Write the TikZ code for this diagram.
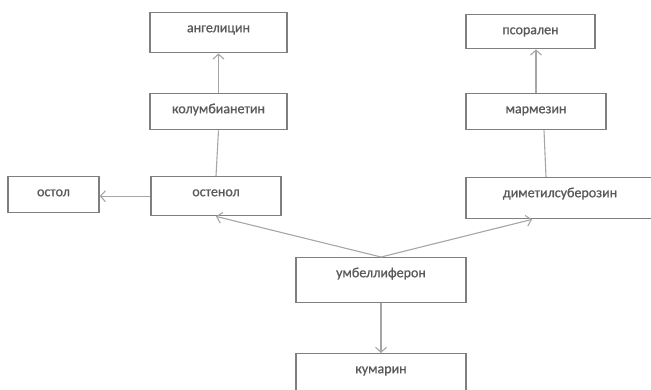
\documentclass[tikz,border=0pt]{standalone}
\usepackage{fontspec}
\setmainfont[FakeBold=1.0]{Carlito}
\usepackage{tikz}
\usetikzlibrary{arrows.meta}
\definecolor{boxline}{HTML}{7F7F7F}
\definecolor{arrline}{HTML}{A6A6A6}
\definecolor{txtgray}{HTML}{5A5A5A}
\tikzset{
  box/.style={draw=boxline, line width=1.4pt, inner xsep=0pt, inner ysep=0pt,
    text height=19.5pt, font=\fontsize{14}{16}\selectfont, text=txtgray, anchor=north},
  arr/.style={draw=arrline, line width=1.1pt, ->, >={Straight Barb[length=5pt,width=11pt]}},
  ln/.style={draw=arrline, line width=1.1pt}
}
\begin{document}
\begin{tikzpicture}[x=1pt,y=-1pt]
        \useasboundingbox (0,0) rectangle (651,389);
        \clip (0,0) rectangle (651,389);
        %левая ветка
        \node[box, minimum width=137pt, text depth=20.5pt] (angelicin) at (218.5,12) {ангелицин};
        \node[box, minimum width=137pt, text depth=16.5pt] (columbianetin) at (218.5,93) {колумбианетин};
        \node[box, minimum width=130pt, text depth=19.5pt] (ostenol) at (216,176) {остенол};
        \node[box, minimum width=91pt, text depth=16.5pt] (ostol) at (53.5,176) {остол};
        %правая ветка
        \node[box, minimum width=129pt, text depth=14.5pt] (psoralen) at (530.5,14) {псорален};
        \node[box, minimum width=140pt, text depth=16.5pt] (marmesin) at (536,93) {мармезин};
        \node[box, minimum width=188pt, text depth=21.5pt] (dimethyl) at (560,177) {диметилсуберозин};
        %центр
        \node[box, minimum width=170pt, text depth=25.5pt] (umbel) at (381,257) {умбеллиферон};
        \node[box, minimum width=170pt, text depth=30pt] (coumarin) at (381,353) {кумарин};

        \draw[arr] (columbianetin.north) -- (angelicin.south);
        \draw[ln] (ostenol.north) -- (columbianetin.south);
        \draw[arr] (ostenol.west) -- (ostenol.west -| ostol.east);
        \draw[arr] (umbel.north) -- (ostenol.south);
        \draw[arr] (umbel.north) -- ([xshift=-28pt]dimethyl.south);
        \draw[ln] ([xshift=8pt]marmesin.south) -- ([xshift=-14pt]dimethyl.north);
        \draw[arr] (marmesin.north) -- (marmesin.north |- psoralen.south);
        \draw[arr] (umbel.south) -- (coumarin.north);
    \end{tikzpicture}
\end{document}
